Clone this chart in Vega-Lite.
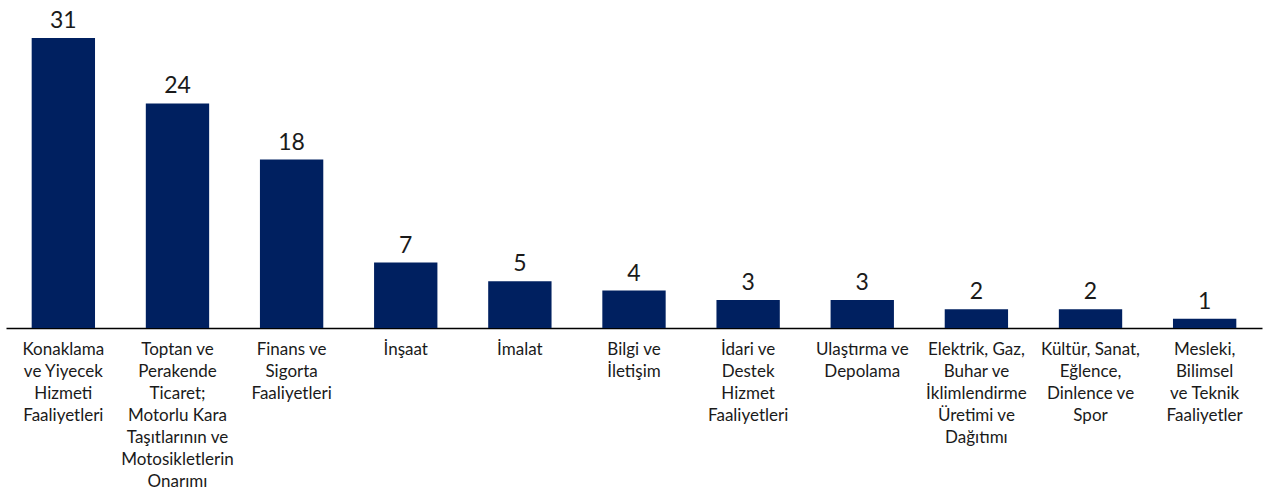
{
  "$schema": "https://vega.github.io/schema/vega-lite/v6.json",
  "width": 1256,
  "height": 290,
  "autosize": {"type": "none"},
  "padding": {"left": 6, "top": 38, "right": 2, "bottom": 167},
  "background": "white",
  "data": {
    "values": [
      {"sektor": "Konaklama|ve Yiyecek|Hizmeti|Faaliyetleri", "deger": 31},
      {"sektor": "Toptan ve|Perakende|Ticaret;|Motorlu Kara|Taşıtlarının ve|Motosikletlerin|Onarımı", "deger": 24},
      {"sektor": "Finans ve|Sigorta|Faaliyetleri", "deger": 18},
      {"sektor": "İnşaat", "deger": 7},
      {"sektor": "İmalat", "deger": 5},
      {"sektor": "Bilgi ve|İletişim", "deger": 4},
      {"sektor": "İdari ve|Destek|Hizmet|Faaliyetleri", "deger": 3},
      {"sektor": "Ulaştırma ve|Depolama", "deger": 3},
      {"sektor": "Elektrik, Gaz,|Buhar ve|İklimlendirme|Üretimi ve|Dağıtımı", "deger": 2},
      {"sektor": "Kültür, Sanat,|Eğlence,|Dinlence ve|Spor", "deger": 2},
      {"sektor": "Mesleki,|Bilimsel|ve Teknik|Faaliyetler", "deger": 1}
    ]
  },
  "encoding": {
    "x": {
      "field": "sektor",
      "type": "nominal",
      "sort": null,
      "scale": {"paddingInner": 0.445, "paddingOuter": 0.225},
      "axis": {
        "title": null,
        "labelAngle": 0,
        "labelExpr": "split(datum.label, '|')",
        "labelFont": "Lato",
        "labelFontSize": 17,
        "labelColor": "#1a1a1a",
        "labelLineHeight": 22,
        "labelBaseline": "top",
        "labelPadding": 13,
        "labelLimit": 0,
        "ticks": false,
        "domainColor": "#000000",
        "domainWidth": 1.3,
        "grid": false
      }
    },
    "y": {
      "field": "deger",
      "type": "quantitative",
      "scale": {"domain": [0, 31], "nice": false, "zero": true},
      "axis": null
    }
  },
  "layer": [
    {"mark": {"type": "bar", "color": "#002060"}},
    {
      "mark": {"type": "text", "baseline": "alphabetic", "dy": -10, "font": "Lato", "fontSize": 23, "color": "#1a1a1a"},
      "encoding": {"text": {"field": "deger", "type": "quantitative"}}
    }
  ],
  "config": {"view": {"stroke": null}}
}
